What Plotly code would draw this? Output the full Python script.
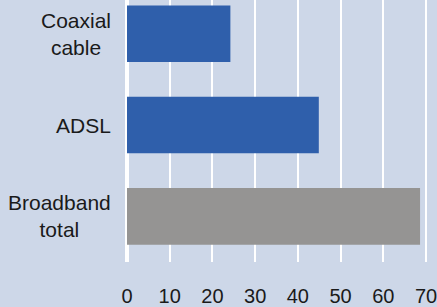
import plotly.graph_objects as go

categories = ["Coaxial cable", "ADSL", "Broadband total"]
label_text = ["Coaxial<br>cable", "ADSL", "Broadband<br>total"]
values = [24.2, 44.9, 68.6]
tick_vals = [0, 10, 20, 30, 40, 50, 60, 70]

BLUE = "#2f5fab"
GRAY = "#959493"
BG = "#cdd7e8"
bar_colors = [BLUE, BLUE, GRAY]

fig = go.Figure(
    go.Bar(
        x=values,
        y=categories,
        orientation="h",
        marker=dict(color=bar_colors, line=dict(width=0)),
        width=0.62,
        hoverinfo="x+y",
    )
)

for cat, txt in zip(categories, label_text):
    fig.add_annotation(
        x=0, xref="paper", y=cat, yref="y",
        text=txt, showarrow=False, xanchor="right", yanchor="middle",
        align="center", xshift=-14,
        font=dict(family="Liberation Sans, Arial, sans-serif", size=21, color="#1a1a1a"),
    )

fig.update_layout(
    width=437, height=307,
    margin=dict(l=127, r=0, t=0, b=41),
    paper_bgcolor=BG, plot_bgcolor=BG,
    showlegend=False,
    font=dict(family="Liberation Sans, Arial, sans-serif", size=20, color="#1a1a1a"),
    xaxis=dict(
        range=[0, 72.1], tickvals=tick_vals, showgrid=True, gridcolor="white", gridwidth=2,
        zeroline=True, zerolinecolor="white", zerolinewidth=4, showline=False,
        ticks="", ticklabelstandoff=20, ticklabeloverflow="allow", fixedrange=True,
    ),
    yaxis=dict(
        type="category", categoryorder="array", categoryarray=categories,
        range=[2.5, -0.37], showticklabels=False, showgrid=False, zeroline=False,
        showline=False, ticks="", fixedrange=True,
    ),
)

fig.write_html(
    "out.html",
    config={"displayModeBar": False},
    post_script="document.body.style.margin='0';document.body.style.overflow='hidden';",
)
